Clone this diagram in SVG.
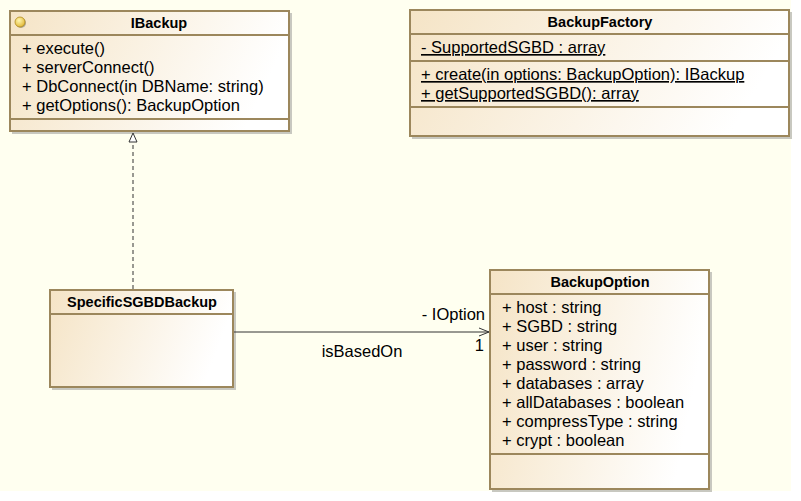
<svg xmlns="http://www.w3.org/2000/svg" width="801" height="501" viewBox="0 0 801 501">
<defs>
<linearGradient id="fill" x1="0" y1="0" x2="1" y2="0.2">
<stop offset="0" stop-color="#F5E4C6"/>
<stop offset="1" stop-color="#FFFFFF"/>
</linearGradient>
<radialGradient id="ball" cx="0.4" cy="0.35" r="0.7">
<stop offset="0" stop-color="#FFF6B0"/>
<stop offset="1" stop-color="#E0B530"/>
</radialGradient>
<marker id="open" markerWidth="12" markerHeight="10" refX="11" refY="5" orient="auto" markerUnits="userSpaceOnUse">
<path d="M1,1 L11,5 L1,9" fill="none" stroke="#333" stroke-width="1"/>
</marker>
</defs>
<style>
.box{fill:url(#fill);stroke:#9C875C;stroke-width:2}
.shadow{fill:#C8C8C0}
.sep{stroke:#9C875C;stroke-width:2}
.t{font-family:"Liberation Sans",Arial,sans-serif;font-size:16.5px;fill:#000}
.h{font-family:"Liberation Sans",Arial,sans-serif;font-size:14.5px;font-weight:bold;fill:#000;text-anchor:middle}
.u{text-decoration:underline}
.edge{stroke:#333;stroke-width:1;fill:none}
</style>
<rect x="0" y="0" width="801" height="501" fill="#FFFFFF"/>
<rect x="0" y="0" width="791" height="491" fill="#FFFFF0"/>

<g id="IBackup">
<rect class="shadow" x="12" y="13" width="280" height="121"/>
<rect class="box" x="10" y="11" width="279" height="120"/>
<line class="sep" x1="10" y1="35" x2="289" y2="35"/>
<line class="sep" x1="10" y1="119" x2="289" y2="119"/>
<circle cx="21" cy="23" r="5" fill="#B0A890"/>
<circle cx="20" cy="22" r="5" fill="url(#ball)" stroke="#B08A20" stroke-width="0.8"/>
<text class="h" x="159" y="28">IBackup</text>
<text class="t" x="22" y="54">+ execute()</text>
<text class="t" x="22" y="73">+ serverConnect()</text>
<text class="t" x="22" y="92">+ DbConnect(in DBName: string)</text>
<text class="t" x="22" y="111">+ getOptions(): BackupOption</text>
</g>

<g id="BackupFactory">
<rect class="shadow" x="412" y="12" width="380" height="127"/>
<rect class="box" x="410" y="10" width="379" height="126"/>
<line class="sep" x1="410" y1="34" x2="789" y2="34"/>
<line class="sep" x1="410" y1="61" x2="789" y2="61"/>
<line class="sep" x1="410" y1="107" x2="789" y2="107"/>
<text class="h" x="600" y="27">BackupFactory</text>
<text class="t u" x="421" y="53">- SupportedSGBD : array</text>
<text class="t u" x="421" y="80">+ create(in options: BackupOption): IBackup</text>
<text class="t u" x="421" y="99">+ getSupportedSGBD(): array</text>
</g>

<g id="SpecificSGBDBackup">
<rect class="shadow" x="52" y="292" width="184" height="98"/>
<rect class="box" x="50" y="290" width="183" height="97"/>
<line class="sep" x1="50" y1="314" x2="233" y2="314"/>
<text class="h" x="142" y="307">SpecificSGBDBackup</text>
</g>

<g id="BackupOption">
<rect class="shadow" x="492" y="272" width="220" height="220"/>
<rect class="box" x="490" y="270" width="219" height="219"/>
<line class="sep" x1="490" y1="294" x2="709" y2="294"/>
<line class="sep" x1="490" y1="454" x2="709" y2="454"/>
<text class="h" x="600" y="287">BackupOption</text>
<text class="t" x="502" y="313">+ host : string</text>
<text class="t" x="502" y="332">+ SGBD : string</text>
<text class="t" x="502" y="351">+ user : string</text>
<text class="t" x="502" y="370">+ password : string</text>
<text class="t" x="502" y="389">+ databases : array</text>
<text class="t" x="502" y="408">+ allDatabases : boolean</text>
<text class="t" x="502" y="427">+ compressType : string</text>
<text class="t" x="502" y="446">+ crypt : boolean</text>
</g>

<g id="connectors">
<line class="edge" x1="133" y1="289" x2="133" y2="142" stroke-dasharray="4,3"/>
<path d="M133,133 L137,142 L129,142 Z" fill="#FFFFFF" stroke="#333" stroke-width="1"/>
<line class="edge" x1="234" y1="332" x2="489" y2="332" marker-end="url(#open)"/>
<text class="t" x="485" y="320" text-anchor="end">- IOption</text>
<text class="t" x="484" y="351" text-anchor="end">1</text>
<text class="t" x="362" y="357" text-anchor="middle">isBasedOn</text>
</g>
</svg>
